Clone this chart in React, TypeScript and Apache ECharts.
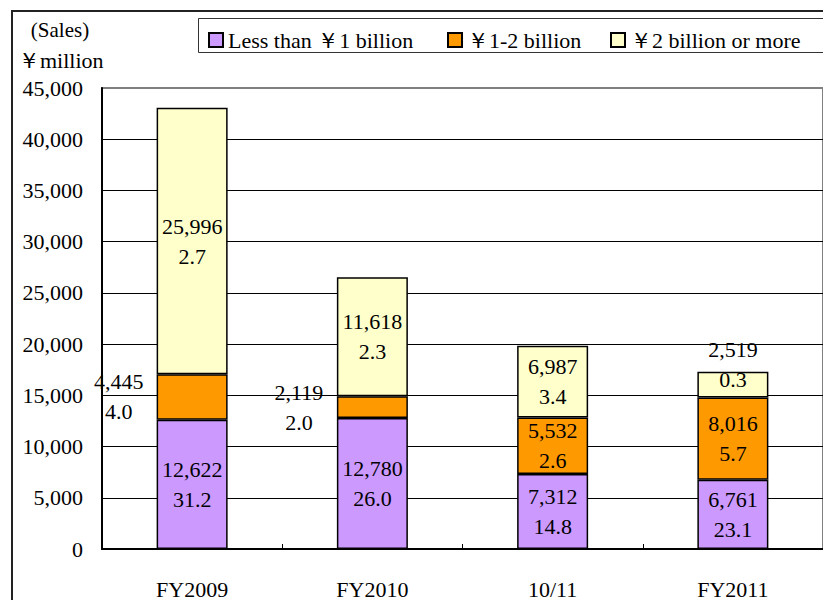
import React, { useEffect, useRef } from "react";
import * as echarts from "echarts";

const categories = ["FY2009", "FY2010", "10/11", "FY2011"];
const seriesNames = ["Less than ￥1 billion", "￥1-2 billion", "￥2 billion or more"];
const lessThan1 = [12622, 12780, 7312, 6761];
const lessThan1Sub = [31.2, 26.0, 14.8, 23.1];
const from1to2 = [4445, 2119, 5532, 8016];
const from1to2Sub = [4.0, 2.0, 2.6, 5.7];
const over2 = [25996, 11618, 6987, 2519];
const over2Sub = [2.7, 2.3, 3.4, 0.3];
const yTicks = [0, 5000, 10000, 15000, 20000, 25000, 30000, 35000, 40000, 45000];

const FONT = "'Liberation Serif', 'Times New Roman', serif";
const colors = ["#CC99FF", "#FF9900", "#FFFFCC"];

const fmt = (v: number) => v.toLocaleString("en-US");

export default function App() {
  const ref = useRef<HTMLDivElement>(null);
  useEffect(() => {
    if (!ref.current) return;
    const chart = echarts.init(ref.current, undefined, { renderer: "svg" });

    const labelBase = {
      show: true,
      position: "inside",
      align: "center",
      verticalAlign: "middle",
      color: "#000",
      fontSize: 22,
      fontFamily: FONT,
      lineHeight: 30,
    };

    const makeData = (vals: number[], subs: number[], special: Record<number, any>) =>
      vals.map((v, i) => {
        const item: any = { value: v, sub: subs[i] };
        if (special[i]) item.label = special[i];
        return item;
      });

    const leftLabel = { position: "left", distance: 38, align: "center", verticalAlign: "middle" };

    const sers = [
      makeData(lessThan1, lessThan1Sub, {}),
      makeData(from1to2, from1to2Sub, { 0: leftLabel, 1: leftLabel }),
      makeData(over2, over2Sub, { 3: { position: "inside", offset: [0, -20] } }),
    ];

    const splitColors = yTicks.map((t, i) => (i === yTicks.length - 1 ? "transparent" : "#000"));

    const option: any = {
      animation: false,
      backgroundColor: "#fff",
      textStyle: { fontFamily: FONT },
      grid: {
        left: 102,
        right: -2,
        top: 88,
        bottom: 50,
        show: true,
        borderColor: "#808080",
        borderWidth: 2,
        backgroundColor: "transparent",
      },
      legend: seriesNames.map((n, i) => ({
        data: [n],
        left: [208, 447, 610][i],
        top: 29,
        padding: 0,
        itemWidth: 14,
        itemHeight: 14,
        itemGap: 0,
        icon: "rect",
        textStyle: { fontSize: 22, fontFamily: FONT, color: "#000" },
      })),
      xAxis: {
        type: "category",
        data: categories,
        axisLine: { lineStyle: { color: "#000", width: 2 } },
        axisTick: { show: true, inside: true, length: 5, alignWithLabel: false, lineStyle: { color: "#000", width: 1 } },
        axisLabel: { fontSize: 22, fontFamily: FONT, color: "#000", margin: 29 },
      },
      yAxis: {
        type: "value",
        min: 0,
        max: 45000,
        interval: 5000,
        axisLine: { show: true, lineStyle: { color: "#000", width: 2 } },
        axisTick: { show: false },
        axisLabel: { fontSize: 22, fontFamily: FONT, color: "#000", margin: 19, formatter: (v: number) => fmt(v) },
        splitLine: { show: true, lineStyle: { color: splitColors, width: 1 } },
      },
      series: seriesNames.map((n, i) => ({
        name: n,
        type: "bar",
        stack: "total",
        barWidth: 71,
        data: sers[i],
        itemStyle: { color: colors[i], borderColor: "#000", borderWidth: 1.5 },
        label: {
          ...labelBase,
          formatter: (p: any) => `${fmt(p.data.value)}\n${p.data.sub.toFixed(1)}`,
        },
      })),
      graphic: [
        {
          type: "rect",
          shape: { x: 12, y: 11, width: 900, height: 700 },
          style: { fill: "none", stroke: "#222", lineWidth: 2 },
          silent: true,
        },
        {
          type: "rect",
          shape: { x: 198.5, y: 18.5, width: 700, height: 34 },
          style: { fill: "none", stroke: "#333", lineWidth: 1 },
          silent: true,
        },
        {
          type: "text",
          x: 60,
          y: 30,
          style: { text: "(Sales)", fontSize: 21, fontFamily: FONT, fill: "#000", textAlign: "center", textVerticalAlign: "middle" },
        },
        {
          type: "text",
          x: 18,
          y: 60,
          style: { text: "￥million", fontSize: 22, fontFamily: FONT, fill: "#000", textAlign: "left", textVerticalAlign: "middle" },
        },
      ],
    };
    chart.setOption(option);
    return () => chart.dispose();
  }, []);
  return (
    <div
      ref={ref}
      style={{ position: "fixed", left: 0, top: 0, width: 823, height: 600, background: "#fff" }}
    />
  );
}
